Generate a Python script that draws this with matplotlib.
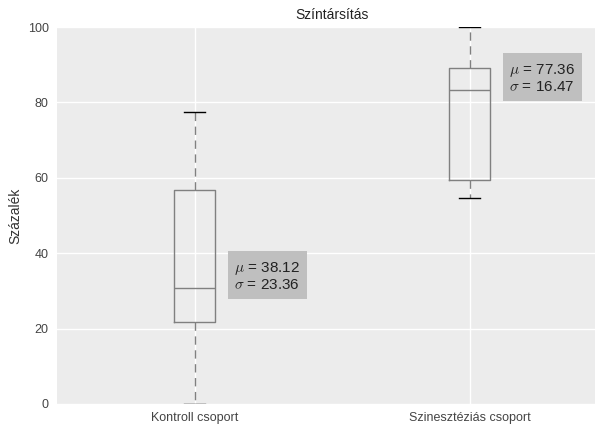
import matplotlib
matplotlib.use('Agg')
import matplotlib.pyplot as plt

plt.rcParams['font.family'] = ['Liberation Sans', 'DejaVu Sans']
plt.rcParams['mathtext.fontset'] = 'cm'

groups = ['Kontroll csoport', 'Szinesztéziás csoport']
whislo = [0.0, 54.6]
q1 = [21.8, 59.4]
med = [30.7, 83.3]
q3 = [56.8, 89.1]
whishi = [77.4, 100.0]
means = [38.12, 77.36]
stds = [23.36, 16.47]
label_y = [34.0, 86.5]

stats = []
for i in range(len(groups)):
    stats.append({'label': groups[i], 'whislo': whislo[i], 'q1': q1[i], 'med': med[i],
                  'q3': q3[i], 'whishi': whishi[i], 'fliers': []})

fig = plt.figure(figsize=(5.95, 4.26), dpi=100)
ax = fig.add_axes([57/595, 22/426, 550/595, 377/426])
ax.set_facecolor('#ececec')
for s in ax.spines.values():
    s.set_visible(False)
ax.grid(True, color='white', linewidth=1)
ax.set_axisbelow(True)

ax.bxp(stats, positions=[1, 2], widths=0.15, showfliers=False,
       boxprops=dict(color='#808080'), medianprops=dict(color='#808080'),
       whiskerprops=dict(color='#808080', linestyle=(0, (6, 4))),
       capprops=dict(color='black'))

for i in range(len(groups)):
    ax.text(i + 1 + 0.145, label_y[i],
            '$\\mu$ = %.2f\n$\\sigma$ = %.2f' % (means[i], stds[i]),
            fontsize=11, va='center', ha='left', color='#222222', linespacing=1.1,
            bbox=dict(facecolor='#bfbfbf', edgecolor='none', pad=5))

ax.set_xlim(0.5, 2.5)
ax.set_ylim(0, 100)
ax.set_yticks([0, 20, 40, 60, 80, 100])
ax.tick_params(length=0, labelsize=9, colors='#444444', pad=6)
ax.set_ylabel('Százalék', fontsize=10, color='#333333')
ax.set_title('Színtársítás', fontsize=10, color='#222222', pad=6)

fig.savefig('out.png', dpi=100)
